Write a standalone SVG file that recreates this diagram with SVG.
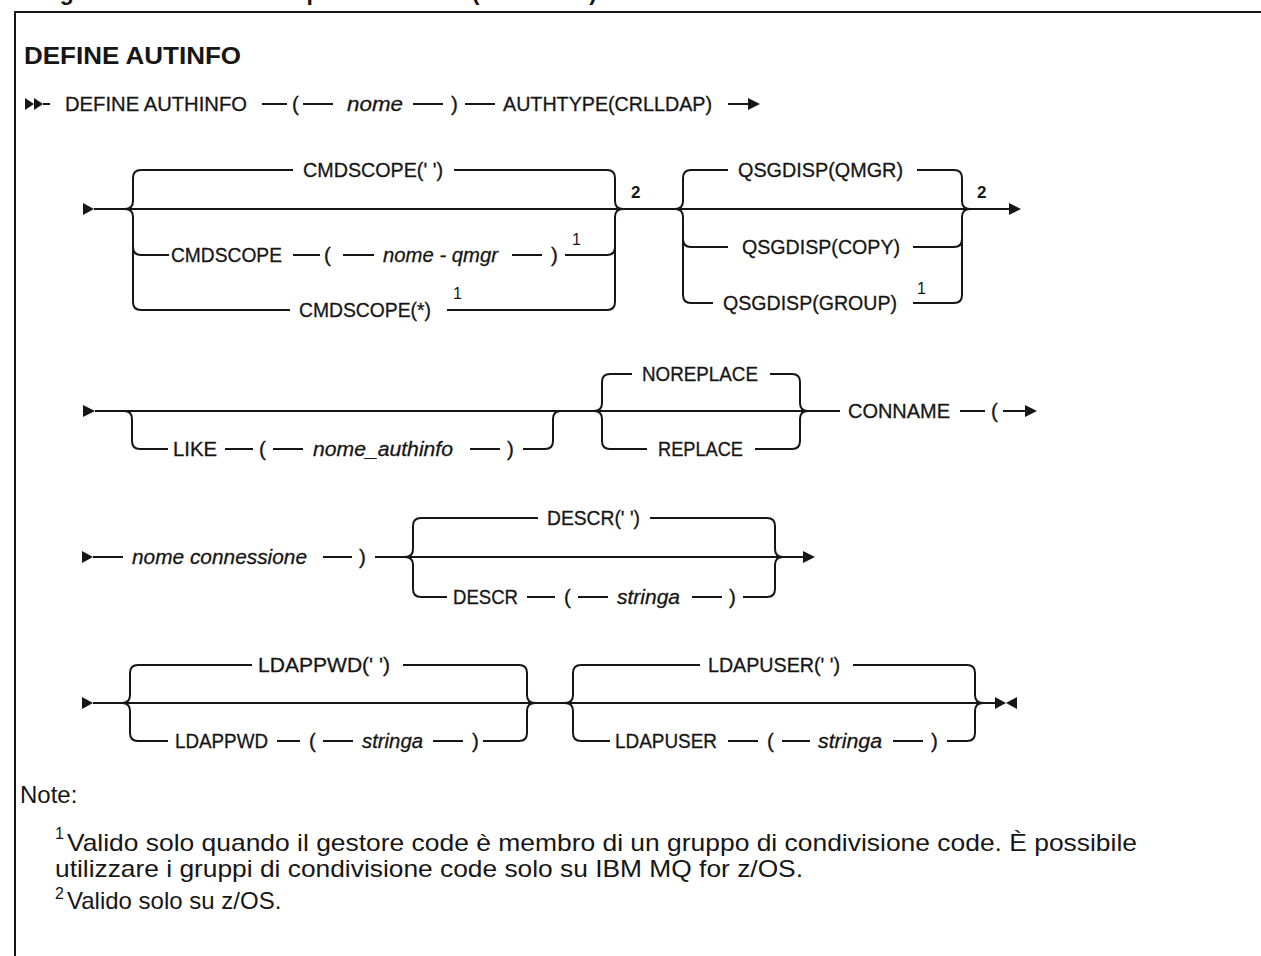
<svg xmlns="http://www.w3.org/2000/svg" width="1261" height="956" viewBox="0 0 1261 956">
<style>
.l{stroke:#161616;stroke-width:2;fill:none}
.f{fill:#161616;stroke:none}
.t{font-family:"Liberation Sans",Arial,sans-serif;font-size:20.5px;fill:#161616;stroke:#161616;stroke-width:0.3}
.i{font-style:italic}
.s{font-family:"Liberation Sans",Arial,sans-serif;font-size:16px;fill:#161616}
.b{font-weight:bold;font-size:17px}
.h{font-family:"Liberation Sans",Arial,sans-serif;font-size:23px;font-weight:bold;fill:#161616}
.n{font-family:"Liberation Sans",Arial,sans-serif;font-size:24px;fill:#161616}
</style>
<rect width="1261" height="956" fill="#ffffff"/>
<text class="h" x="24" y="0" font-size="26">Diagramma della sintassi per AUTHTYPE(CRLLDAP)</text>
<path class="l" d="M1262,12 L15,12 L15,957"/>
<text class="h" x="24" y="64" textLength="217" lengthAdjust="spacingAndGlyphs">DEFINE AUTINFO</text>

<g id="connectors">
<!-- row 1 -->
<polygon class="f" points="25,98 34,104 25,110"/>
<polygon class="f" points="34,98 43,104 34,110"/>
<path class="l" d="M43,104 L50,104 M262,104 L287,104 M303,104 L333,104 M413,104 L443,104 M465,104 L495,104 M728,104 L749,104"/>
<polygon class="f" points="748,98 760,104 748,110"/>
<!-- row 2 -->
<polygon class="f" points="83,203 94,209 83,215"/>
<path class="l" d="M94,209 L1010,209"/>
<polygon class="f" points="1009,203 1021,209 1009,215"/>
<path class="l" d="M125,209 Q133,209 133,201 L133,178 Q133,170 141,170 L293,170 M125,209 Q133,209 133,217 L133,302 Q133,310 141,310 L290,310 M133,247 Q133,255 141,255 L169,255 M293,255 L320,255 M343,255 L374,255 M512,255 L542,255"/>
<path class="l" d="M454,170 L607,170 Q615,170 615,178 L615,201 Q615,209 623,209 M447,310 L607,310 Q615,310 615,302 L615,217 Q615,209 623,209 M565,255 L607,255 Q615,255 615,247"/>
<path class="l" d="M675,209 Q683,209 683,201 L683,178 Q683,170 691,170 L728,170 M675,209 Q683,209 683,217 L683,295 Q683,303 691,303 L713,303 M683,239 Q683,247 691,247 L728,247"/>
<path class="l" d="M917,170 L954,170 Q962,170 962,178 L962,201 Q962,209 970,209 M913,303 L954,303 Q962,303 962,295 L962,217 Q962,209 970,209 M913,247 L954,247 Q962,247 962,239"/>
<!-- row 3 -->
<polygon class="f" points="83,405 95,411 83,417"/>
<path class="l" d="M95,411 L840,411"/>
<path class="l" d="M124,411 Q132,411 132,419 L132,441 Q132,449 140,449 L168,449 M225,449 L253,449 M273,449 L303,449 M470,449 L500,449 M523,449 L545,449 Q553,449 553,441 L553,419 Q553,411 561,411"/>
<path class="l" d="M594,411 Q602,411 602,403 L602,382 Q602,374 610,374 L632,374 M594,411 Q602,411 602,419 L602,441 Q602,449 610,449 L647,449 M770,374 L792,374 Q800,374 800,382 L800,403 Q800,411 808,411 M755,449 L792,449 Q800,449 800,441 L800,419 Q800,411 808,411"/>
<path class="l" d="M960,411 L985,411 M1003,411 L1026,411"/>
<polygon class="f" points="1025,405 1037,411 1025,417"/>
<!-- row 4 -->
<polygon class="f" points="82,551 93,557 82,563"/>
<path class="l" d="M93,557 L123,557 M323,557 L352,557 M375,557 L804,557"/>
<polygon class="f" points="803,551 815,557 803,563"/>
<path class="l" d="M405,557 Q413,557 413,549 L413,526 Q413,518 421,518 L538,518 M405,557 Q413,557 413,565 L413,589 Q413,597 421,597 L447,597 M527,597 L555,597 M578,597 L608,597 M692,597 L722,597 M650,518 L767,518 Q775,518 775,526 L775,549 Q775,557 783,557 M743,597 L767,597 Q775,597 775,589 L775,565 Q775,557 783,557"/>
<!-- row 5 -->
<polygon class="f" points="82,697 93,703 82,709"/>
<path class="l" d="M93,703 L996,703"/>
<polygon class="f" points="995,697 1006,703 995,709"/>
<polygon class="f" points="1017,697 1006,703 1017,709"/>
<path class="l" d="M122,703 Q130,703 130,695 L130,673 Q130,665 138,665 L252,665 M122,703 Q130,703 130,711 L130,733 Q130,741 138,741 L168,741 M277,741 L300,741 M323,741 L353,741 M433,741 L463,741 M403,665 L519,665 Q527,665 527,673 L527,695 Q527,703 535,703 M483,741 L519,741 Q527,741 527,733 L527,711 Q527,703 535,703"/>
<path class="l" d="M565,703 Q573,703 573,695 L573,673 Q573,665 581,665 L700,665 M565,703 Q573,703 573,711 L573,733 Q573,741 581,741 L610,741 M728,741 L758,741 M782,741 L810,741 M893,741 L923,741 M853,665 L967,665 Q975,665 975,673 L975,695 Q975,703 983,703 M947,741 L967,741 Q975,741 975,733 L975,711 Q975,703 983,703"/>
</g>

<g id="row1">
<text class="t" x="65" y="111" textLength="182" lengthAdjust="spacingAndGlyphs">DEFINE AUTHINFO</text>
<text class="t" x="292" y="111">(</text>
<text class="t i" x="347" y="111" textLength="56" lengthAdjust="spacingAndGlyphs">nome</text>
<text class="t" x="451" y="111">)</text>
<text class="t" x="503" y="111" textLength="209" lengthAdjust="spacingAndGlyphs">AUTHTYPE(CRLLDAP)</text>
</g>

<g id="cmdscope">
<text class="t" x="303" y="177" textLength="140" lengthAdjust="spacingAndGlyphs">CMDSCOPE(' ')</text>
<text class="t" x="171" y="262" textLength="111" lengthAdjust="spacingAndGlyphs">CMDSCOPE</text>
<text class="t" x="324" y="262">(</text>
<text class="t i" x="383" y="262" textLength="115" lengthAdjust="spacingAndGlyphs">nome - qmgr</text>
<text class="t" x="551" y="262">)</text>
<text class="s" x="572" y="245">1</text>
<text class="t" x="299" y="317" textLength="132" lengthAdjust="spacingAndGlyphs">CMDSCOPE(*)</text>
<text class="s" x="453" y="299">1</text>
<text class="s b" x="631" y="198">2</text>
</g>

<g id="qsgdisp">
<text class="t" x="738" y="177" textLength="165" lengthAdjust="spacingAndGlyphs">QSGDISP(QMGR)</text>
<text class="t" x="742" y="254" textLength="158" lengthAdjust="spacingAndGlyphs">QSGDISP(COPY)</text>
<text class="t" x="723" y="310" textLength="174" lengthAdjust="spacingAndGlyphs">QSGDISP(GROUP)</text>
<text class="s" x="917" y="294">1</text>
<text class="s b" x="977" y="198">2</text>
</g>

<g id="like">
<text class="t" x="173" y="456" textLength="44" lengthAdjust="spacingAndGlyphs">LIKE</text>
<text class="t" x="259" y="456">(</text>
<text class="t i" x="313" y="456" textLength="140" lengthAdjust="spacingAndGlyphs">nome_authinfo</text>
<text class="t" x="507" y="456">)</text>
</g>

<g id="replace">
<text class="t" x="642" y="381" textLength="116" lengthAdjust="spacingAndGlyphs">NOREPLACE</text>
<text class="t" x="658" y="456" textLength="85" lengthAdjust="spacingAndGlyphs">REPLACE</text>
</g>

<g id="conname">
<text class="t" x="848" y="418" textLength="102" lengthAdjust="spacingAndGlyphs">CONNAME</text>
<text class="t" x="991" y="418">(</text>
</g>

<g id="row4">
<text class="t i" x="132" y="564" textLength="175" lengthAdjust="spacingAndGlyphs">nome connessione</text>
<text class="t" x="359" y="564">)</text>
</g>

<g id="descr">
<text class="t" x="547" y="525" textLength="93" lengthAdjust="spacingAndGlyphs">DESCR(' ')</text>
<text class="t" x="453" y="604" textLength="65" lengthAdjust="spacingAndGlyphs">DESCR</text>
<text class="t" x="564" y="604">(</text>
<text class="t i" x="617" y="604" textLength="63" lengthAdjust="spacingAndGlyphs">stringa</text>
<text class="t" x="729" y="604">)</text>
</g>

<g id="ldappwd">
<text class="t" x="258" y="672" textLength="132" lengthAdjust="spacingAndGlyphs">LDAPPWD(' ')</text>
<text class="t" x="175" y="748" textLength="93" lengthAdjust="spacingAndGlyphs">LDAPPWD</text>
<text class="t" x="309" y="748">(</text>
<text class="t i" x="362" y="748" textLength="61" lengthAdjust="spacingAndGlyphs">stringa</text>
<text class="t" x="472" y="748">)</text>
</g>

<g id="ldapuser">
<text class="t" x="708" y="672" textLength="132" lengthAdjust="spacingAndGlyphs">LDAPUSER(' ')</text>
<text class="t" x="615" y="748" textLength="102" lengthAdjust="spacingAndGlyphs">LDAPUSER</text>
<text class="t" x="767" y="748">(</text>
<text class="t i" x="818" y="748" textLength="64" lengthAdjust="spacingAndGlyphs">stringa</text>
<text class="t" x="931" y="748">)</text>
</g>

<g id="notes">
<text class="n" x="20" y="803">Note:</text>
<text class="s" x="55" y="839">1</text>
<text class="n" x="67" y="851" textLength="1070" lengthAdjust="spacingAndGlyphs">Valido solo quando il gestore code è membro di un gruppo di condivisione code. È possibile</text>
<text class="n" x="55" y="877" textLength="748" lengthAdjust="spacingAndGlyphs">utilizzare i gruppi di condivisione code solo su IBM MQ for z/OS.</text>
<text class="s" x="55" y="899">2</text>
<text class="n" x="67" y="909">Valido solo su z/OS.</text>
</g>
</svg>
